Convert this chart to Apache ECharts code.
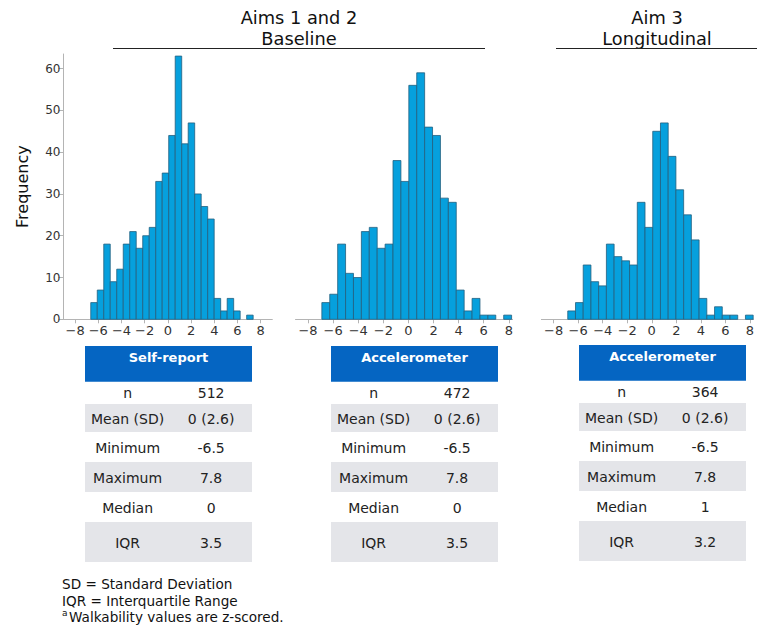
<!DOCTYPE html>
<html><head><meta charset="utf-8">
<script src="https://cdn.jsdelivr.net/npm/echarts@6/dist/echarts.min.js"></script>
<style>html,body{margin:0;padding:0;background:#fff}#c{width:757px;height:628px}</style>
</head><body><div id="c"></div>
<script>
// ---- data ----
const binEdges1 = [-6.65,-6.09,-5.53,-4.97,-4.41,-3.85,-3.29,-2.73,-2.17,-1.61,-1.05,-0.49,0.07,0.63,1.19,1.75,2.31,2.87,3.43,3.99,4.55,5.11,5.67,6.23,6.79,7.35];
const counts1   = [4,7,18,9,12,18,21,17,20,22,33,35,44,63,42,47,30,27,24,5,2,5,2,0,1];
const binEdges2 = [-6.9,-6.27,-5.64,-5.01,-4.38,-3.75,-3.12,-2.49,-1.86,-1.23,-0.6,0.03,0.66,1.29,1.92,2.55,3.18,3.81,4.44,5.07,5.7,6.33,6.96,7.59,8.22];
const counts2   = [4,6,18,11,10,21,22,17,18,38,33,56,59,46,44,29,28,7,2,5,1,1,0,1];
const binEdges3 = [-6.85,-6.22,-5.59,-4.96,-4.33,-3.7,-3.07,-2.44,-1.81,-1.18,-0.55,0.08,0.71,1.34,1.97,2.6,3.23,3.86,4.49,5.12,5.75,6.38,7.01,7.64,8.27];
const counts3   = [2,4,13,9,8,18,15,14,13,28,22,45,47,39,31,25,19,5,1,3,1,1,0,1];
const xTickValues = [-8,-6,-4,-2,0,2,4,6,8];
const yAxisName = 'Frequency';
const groupTitles = [['Aims 1 and 2','Baseline'],['Aim 3','Longitudinal']];
const tableHeaders = ['Self-report','Accelerometer','Accelerometer'];
const rowLabels = ['n','Mean (SD)','Minimum','Maximum','Median','IQR'];
const tableValues1 = ['512','0 (2.6)','-6.5','7.8','0','3.5'];
const tableValues2 = ['472','0 (2.6)','-6.5','7.8','0','3.5'];
const tableValues3 = ['364','0 (2.6)','-6.5','7.8','1','3.2'];
const footnotes = ['SD = Standard Deviation','IQR = Interquartile Range','Walkability values are z-scored.'];
const footSup = 'a';

// ---- build ----
const FONT = 'DejaVu Sans';
function binData(edges, counts){
  return counts.map((c,i)=>[edges[i], edges[i+1], c]);
}
function renderBin(params, api){
  const c = api.value(2);
  if (!c) return null;
  const p0 = api.coord([api.value(0), c]);
  const p1 = api.coord([api.value(1), 0]);
  return {type:'rect', shape:{x:p0[0], y:p0[1], width:p1[0]-p0[0], height:p1[1]-p0[1]},
    style:{fill:'#06a0dd', stroke:'#23607f', lineWidth:0.8}};
}
const fmt = v => v < 0 ? '\u2212' + Math.abs(v) : String(v);
const grids = [
  {left:63.5, top:54, width:208.8, height:265.3},
  {left:295.5, top:54, width:217.1, height:265.3},
  {left:541.4, top:54, width:217.1, height:265.3}
];
const xMax = [9, 8.3, 8.3];
const xAxes = grids.map((g,i)=>({
  type:'value', gridIndex:i, min:-9, max:xMax[i],
  splitLine:{show:false},
  axisLine:{show:true, onZero:false, lineStyle:{color:'#b4b4b4', width:1}},
  axisTick:{show:true, length:4, customValues:xTickValues, lineStyle:{color:'#b4b4b4'}},
  axisLabel:{customValues:xTickValues, formatter:fmt, color:'#333', fontFamily:FONT, fontSize:13, margin:5}
}));
const yAxes = grids.map((g,i)=>({
  type:'value', gridIndex:i, min:0, max:63.5, interval:10,
  show: i===0,
  splitLine:{show:false},
  axisLine:{show:true, onZero:false, lineStyle:{color:'#b4b4b4'}},
  axisTick:{show:true, length:5, lineStyle:{color:'#b4b4b4'}},
  axisLabel:{color:'#333', fontFamily:FONT, fontSize:12, margin:3, showMaxLabel:false},
  name: i===0 ? yAxisName : '', nameLocation:'middle', nameRotate:90, nameGap:33,
  nameTextStyle:{fontFamily:FONT, fontSize:16, color:'#111'}
}));
const series = [[binEdges1,counts1],[binEdges2,counts2],[binEdges3,counts3]].map((d,i)=>({
  type:'custom', xAxisIndex:i, yAxisIndex:i, renderItem:renderBin,
  encode:{x:[0,1], y:2}, data:binData(d[0], d[1]), clip:false, silent:true
}));

const graphic = [];
// group titles and rules
const titleCenters = [299, 657];
const ruleSpans = [[113,485],[556,757]];
groupTitles.forEach((t,i)=>{
  graphic.push({type:'text', x:titleCenters[i], y:17, style:{text:t[0], align:'center', verticalAlign:'middle', font:'17.8px "'+FONT+'"', fill:'#111'}});
  graphic.push({type:'text', x:titleCenters[i], y:38, style:{text:t[1], align:'center', verticalAlign:'middle', font:'17.8px "'+FONT+'"', fill:'#111'}});
  graphic.push({type:'line', shape:{x1:ruleSpans[i][0], y1:48.5, x2:ruleSpans[i][1], y2:48.5}, style:{stroke:'#222', lineWidth:1}});
});
// tables
const tableLefts = [85, 331, 579];
const tableShift = [0, 0, -1];
const tableW = 167;
const rowBounds = [381.7, 404, 432, 462, 492, 522, 562];
const allValues = [tableValues1, tableValues2, tableValues3];
tableLefts.forEach((L,t)=>{
  const dy = tableShift[t];
  graphic.push({type:'rect', shape:{x:L, y:346+dy, width:tableW, height:35.7}, style:{fill:'#0565c2'}});
  graphic.push({type:'text', x:L+tableW/2, y:357.5+dy, style:{text:tableHeaders[t], align:'center', verticalAlign:'middle', font:'bold 13px "'+FONT+'"', fill:'#fff'}});
  rowLabels.forEach((lab,r)=>{
    const y0 = rowBounds[r]+dy, y1 = rowBounds[r+1]+dy;
    if (r % 2 === 1) graphic.push({type:'rect', shape:{x:L, y:y0, width:tableW, height:y1-y0}, style:{fill:'#e4e5e9'}});
    const yc = (y0+y1)/2 + 0.5;
    graphic.push({type:'text', x:L+tableW*0.255, y:yc, style:{text:lab, align:'center', verticalAlign:'middle', font:'14px "'+FONT+'"', fill:'#222'}});
    graphic.push({type:'text', x:L+tableW*0.755, y:yc, style:{text:allValues[t][r], align:'center', verticalAlign:'middle', font:'14px "'+FONT+'"', fill:'#222'}});
  });
});
// footnotes
const footY = [584, 601, 617];
footnotes.forEach((f,i)=>{
  const xoff = i===2 ? 7 : 0;
  graphic.push({type:'text', x:62+xoff, y:footY[i], style:{text:f, align:'left', verticalAlign:'middle', font:'13.6px "'+FONT+'"', fill:'#111'}});
});
graphic.push({type:'text', x:62, y:613, style:{text:footSup, align:'left', verticalAlign:'middle', font:'9px "'+FONT+'"', fill:'#111'}});

const chart = echarts.init(document.getElementById('c'), null, {renderer:'svg', width:757, height:628});
chart.setOption({
  animation:false,
  backgroundColor:'#fff',
  grid:grids,
  xAxis:xAxes,
  yAxis:yAxes,
  series:series,
  graphic:graphic
});
</script>
</body></html>
